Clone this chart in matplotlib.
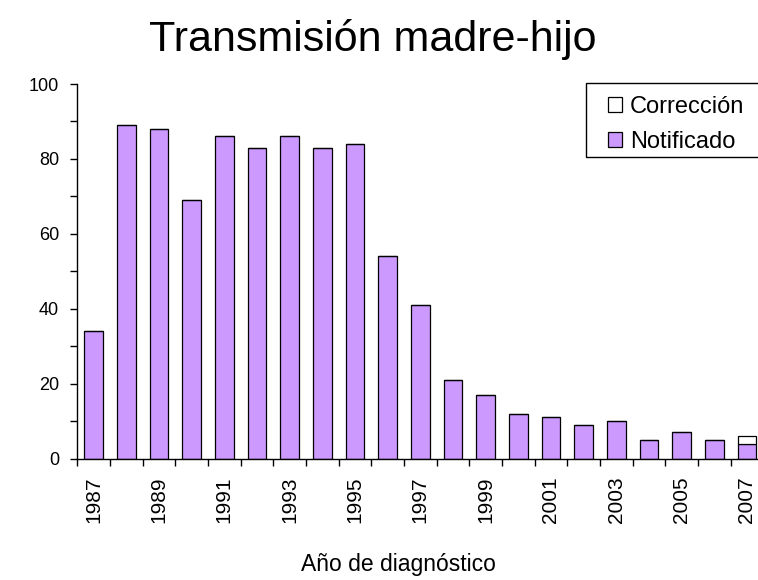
import matplotlib
matplotlib.use("Agg")
import matplotlib.pyplot as plt
import numpy as np
from matplotlib.patches import Rectangle
from matplotlib.ticker import MultipleLocator, FixedLocator, NullFormatter

years = list(range(1987, 2008))
notificado = [34, 89, 88, 69, 86, 83, 86, 83, 84, 54, 41,
              21, 17, 12, 11, 9, 10, 5, 7, 5, 4]
correccion = [0, 0, 0, 0, 0, 0, 0, 0, 0, 0, 0,
              0, 0, 0, 0, 0, 0, 0, 0, 0, 2]
year_labels = [str(y) if (y - 1987) % 2 == 0 else "" for y in years]

purple = "#CC99FF"
plt.rcParams["font.family"] = "Liberation Sans"

W, H = 758, 580
fig = plt.figure(figsize=(W / 100, H / 100), dpi=100)
ax = fig.add_axes([77.3 / W, 1 - 458.7 / H, 686 / W, 374.7 / H])

x = np.arange(len(years))
b1 = ax.bar(x, notificado, width=0.57, color=purple, edgecolor="black", linewidth=0.9)
b2 = ax.bar(x, correccion, width=0.57, bottom=notificado, color="white",
            edgecolor="black", linewidth=0.9)

ax.set_xlim(-0.5, len(years) - 0.5)
ax.set_ylim(0, 100)

for s in ["top", "right"]:
    ax.spines[s].set_visible(False)
for s in ["left", "bottom"]:
    ax.spines[s].set_linewidth(1.0)
    ax.spines[s].set_color("black")

ax.yaxis.set_major_locator(MultipleLocator(20))
ax.yaxis.set_minor_locator(MultipleLocator(10))
ax.tick_params(axis="y", which="both", direction="out", length=5, width=1,
               labelsize=13, pad=8)

# labels in the middle of each bar, ticks between the bars
ax.set_xticks(x)
ax.set_xticklabels(year_labels, rotation=90, fontsize=15)
ax.tick_params(axis="x", which="major", length=0, pad=13)
ax.xaxis.set_minor_locator(FixedLocator(np.arange(-0.5, len(years), 1.0)))
ax.xaxis.set_minor_formatter(NullFormatter())
ax.tick_params(axis="x", which="minor", direction="out", length=5, width=1)

fig.text(373 / W, 1 - 40 / H, "Transmisión madre-hijo", ha="center", va="center",
         fontsize=31)
fig.text(398 / W, 1 - 564 / H, "Año de diagnóstico", ha="center", va="center",
         fontsize=16.5)

# legend frame drawn by hand so the inner padding matches
frame = Rectangle((586 / W, 1 - 157 / H), 190 / W, 74 / H,
                  transform=fig.transFigure, facecolor="white",
                  edgecolor="black", linewidth=1.0, zorder=5, clip_on=False)
ax.add_patch(frame)
leg = ax.legend([b2, b1], ["Corrección", "Notificado"], loc="upper left",
                bbox_to_anchor=(608 / W, 1 - 96 / H), bbox_transform=fig.transFigure,
                prop={"size": 17}, frameon=False,
                handlelength=0.6, handleheight=0.6, handletextpad=0.34,
                labelspacing=0.55, borderpad=0, borderaxespad=0)
leg.set_zorder(6)

fig.savefig("out.png", dpi=100)
